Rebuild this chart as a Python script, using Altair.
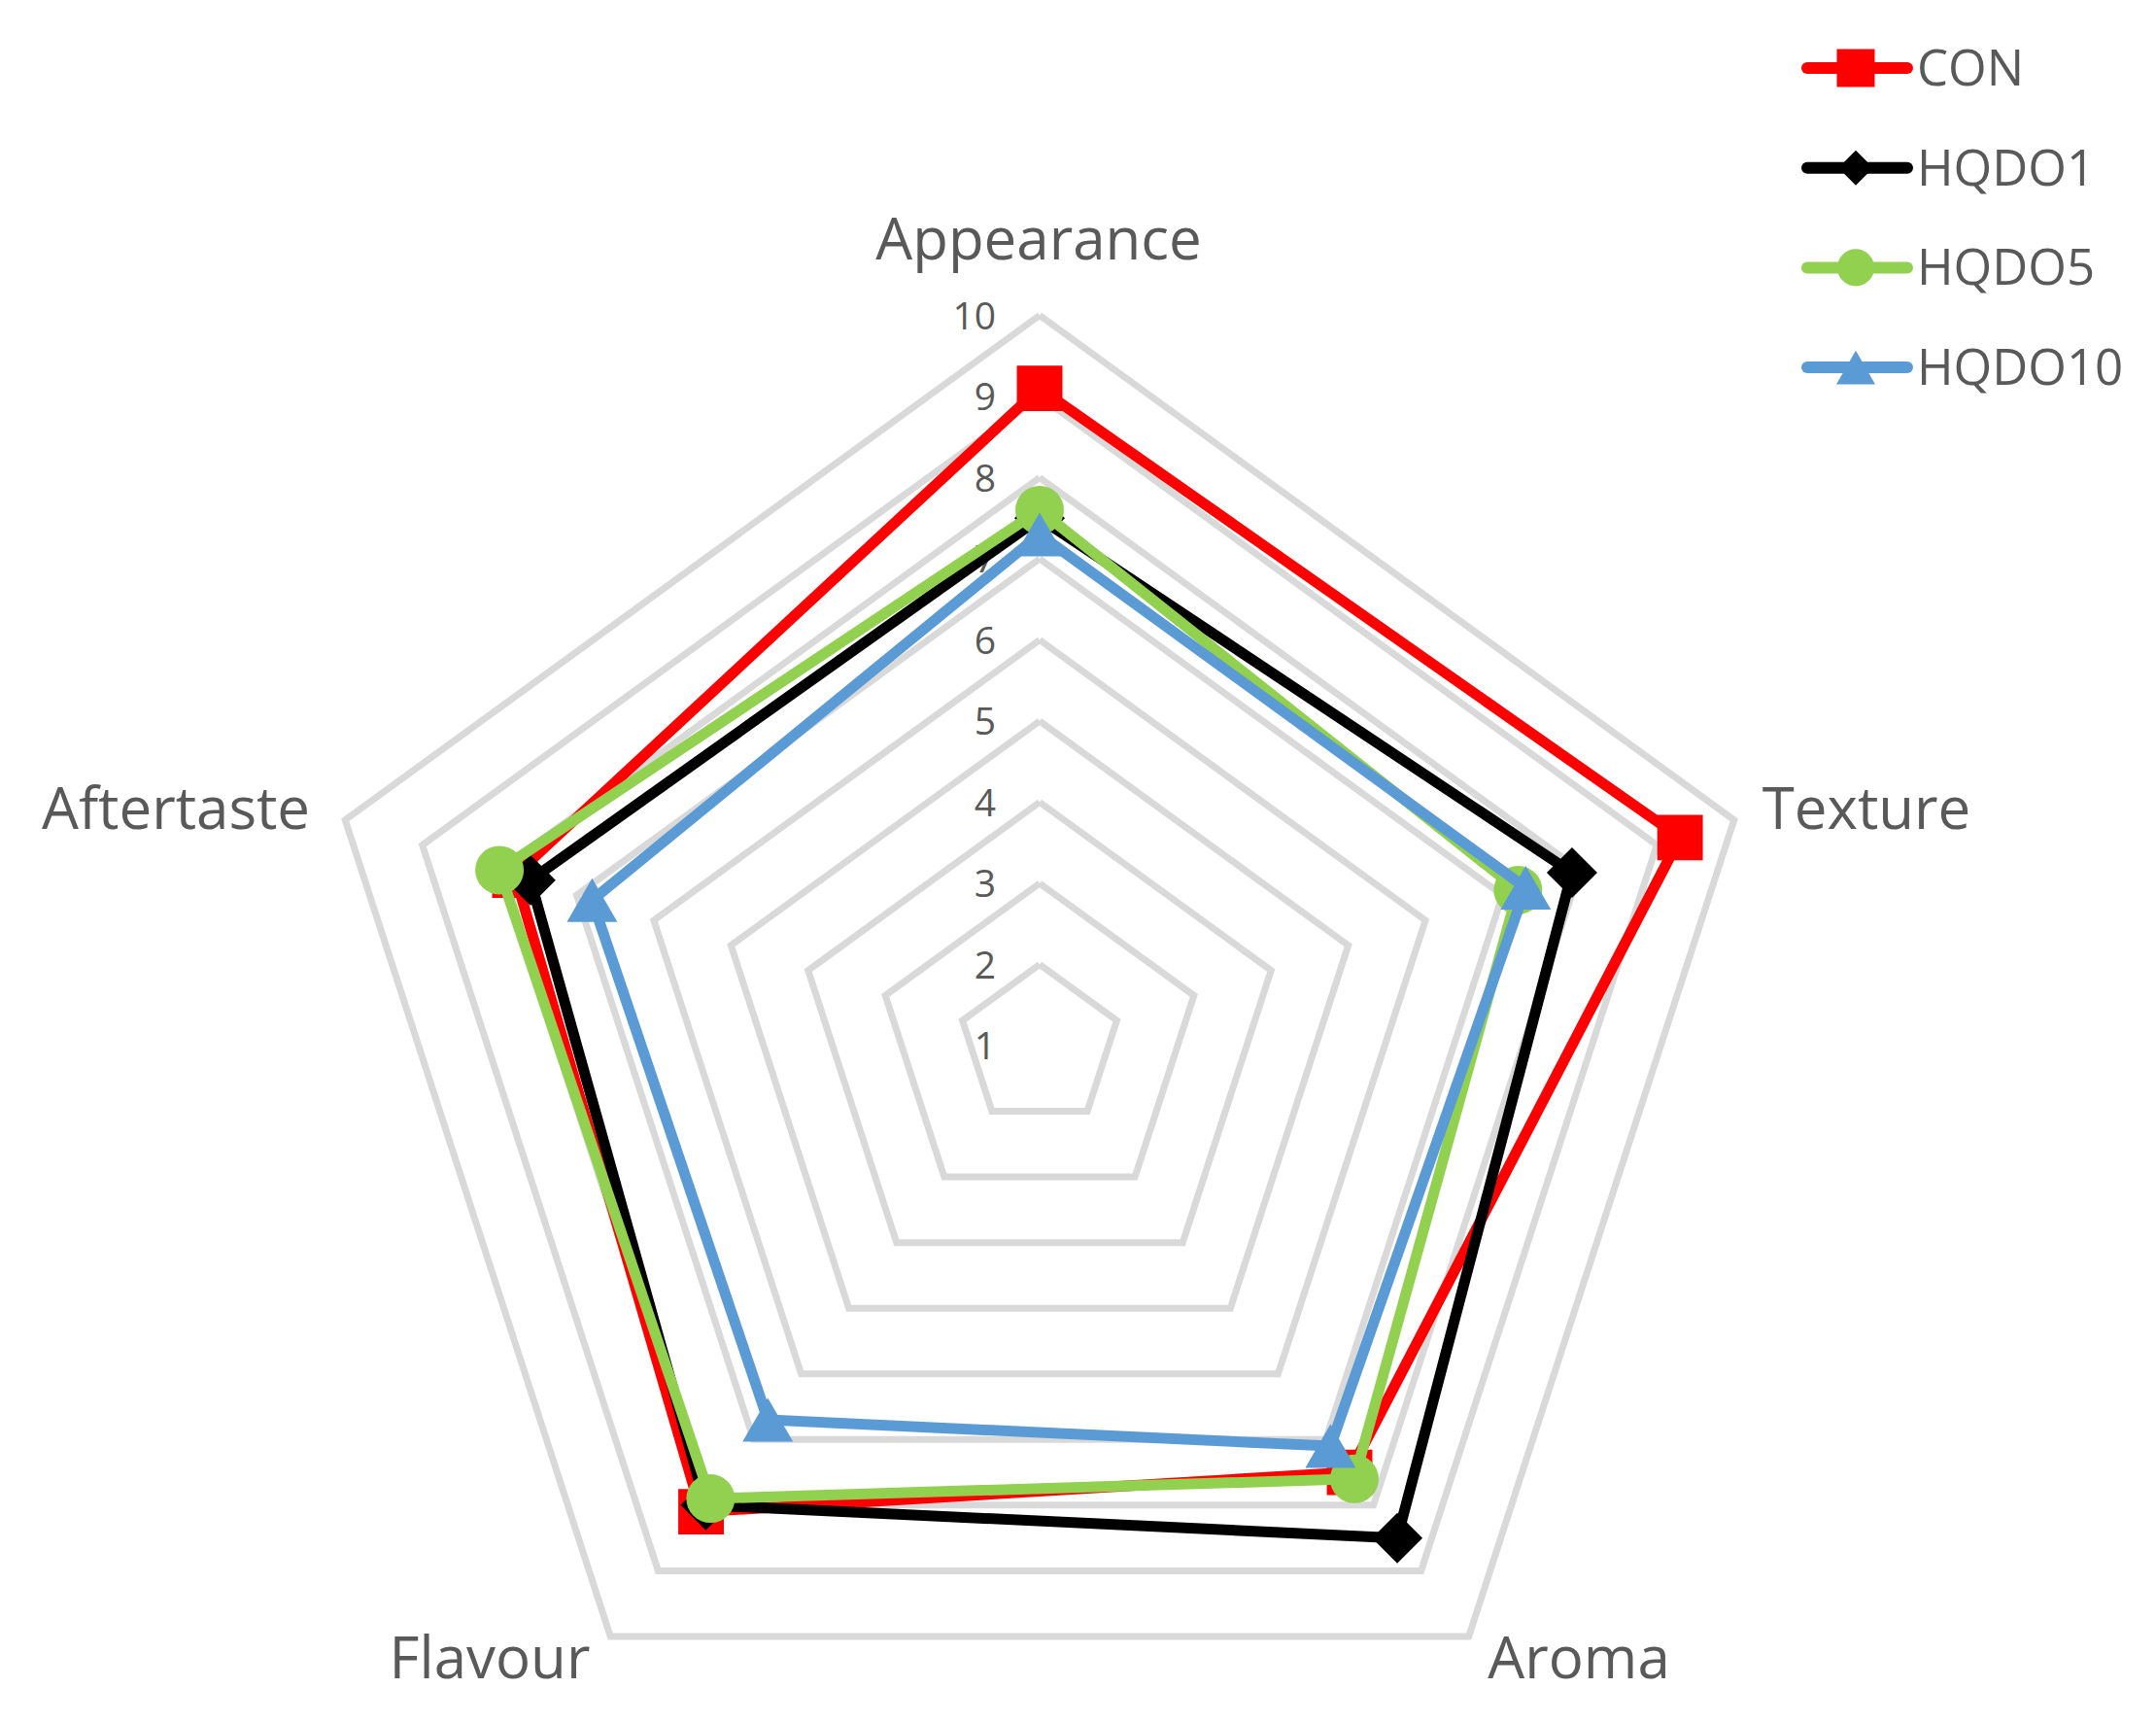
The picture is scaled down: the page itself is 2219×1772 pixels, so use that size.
import math
import altair as alt
import pandas as pd

# ---------------- data ----------------
categories = ["Appearance", "Texture", "Aroma", "Flavour", "Aftertaste"]
series = ["CON", "HQDO1", "HQDO5", "HQDO10"]
con = [9.1, 9.3, 7.5, 8.1, 7.8]
hqdo1 = [7.5, 7.9, 8.5, 8.0, 7.6]
hqdo5 = [7.6, 7.2, 7.6, 7.9, 8.0]
hqdo10 = [7.3, 7.3, 7.1, 6.7, 6.8]
values = [con, hqdo1, hqdo5, hqdo10]
tick_values = [1, 2, 3, 4, 5, 6, 7, 8, 9, 10]
grid_levels = [2, 3, 4, 5, 6, 7, 8, 9, 10]
axis_min = 1

# ---------------- styles / layout ----------------
colors = ["#FF0000", "#000000", "#92D050", "#5B9BD5"]
shapes = ["square", "diamond", "circle", "triangle-up"]
marker_sizes = [2200, 2700, 2500, 2700]
legend_sizes = [1520, 1300, 1450, 1600]
FONT = "Open Sans"
TXT = "#595959"
GRID = "#D9D9D9"

W, H = 2195, 1745
U = 83.5                    # pixels per value unit
CX, CY = 1070 - 8, 1076 - 8  # centre in plot coords
xmin = -CX / U
xmax = xmin + W / U
ymax = CY / U
ymin = ymax - H / U

n = len(categories)
angle_expr = f"PI/2 - datum.k * 2 * PI / {n}"

xs = alt.Scale(domain=[xmin, xmax], nice=False, zero=False)
ys = alt.Scale(domain=[ymin, ymax], nice=False, zero=False)


def polar(chart):
    return chart.transform_calculate(
        ang=angle_expr
    ).transform_calculate(
        px=f"(datum.value - {axis_min}) * cos(datum.ang)",
        py=f"(datum.value - {axis_min}) * sin(datum.ang)",
    )


# grid pentagons
grid_rows = []
for lv in grid_levels:
    for i in range(n + 1):
        grid_rows.append({"level": lv, "k": i % n, "o": i, "value": lv})
grid_df = pd.DataFrame(grid_rows)

grid = polar(alt.Chart(grid_df)).mark_line(
    color=GRID, strokeWidth=7, strokeJoin="miter"
).encode(
    x=alt.X("px:Q", scale=xs, axis=None),
    y=alt.Y("py:Q", scale=ys, axis=None),
    detail="level:N",
    order="o:Q",
)

# tick labels
tick_df = pd.DataFrame({"value": tick_values, "k": [0] * len(tick_values)})
tick_layer = polar(alt.Chart(tick_df)).mark_text(
    align="right", baseline="alphabetic", dx=-45, dy=14,
    fontSize=39, font=FONT, color=TXT
).encode(
    x=alt.X("px:Q", scale=xs, axis=None),
    y=alt.Y("py:Q", scale=ys, axis=None),
    text="value:Q",
)

layers = [grid, tick_layer]

# series
for s, vals, col, shp, sz in zip(series, values, colors, shapes, marker_sizes):
    rows = []
    for i in range(n + 1):
        rows.append({"series": s, "k": i % n, "o": i, "value": vals[i % n],
                     "category": categories[i % n]})
    df = pd.DataFrame(rows)
    base = polar(alt.Chart(df))
    line = base.mark_line(color=col, strokeWidth=11, strokeJoin="round").encode(
        x=alt.X("px:Q", scale=xs, axis=None),
        y=alt.Y("py:Q", scale=ys, axis=None),
        order="o:Q",
    )
    pts = base.transform_filter(f"datum.o < {n}").mark_point(
        filled=True, shape=shp, size=sz, color=col, opacity=1, strokeWidth=0
    ).encode(
        x=alt.X("px:Q", scale=xs, axis=None),
        y=alt.Y("py:Q", scale=ys, axis=None),
    )
    layers += [line, pts]

# category labels (annotation positions in plot pixels)
cat_pos = {
    "Appearance": (1061, 259),
    "Texture": (1913, 845),
    "Aroma": (1617, 1719),
    "Flavour": (496, 1719),
    "Aftertaste": (173, 845),
}
for c in categories:
    x0, y0 = cat_pos[c]
    layers.append(
        alt.Chart(pd.DataFrame({"t": [c]})).mark_text(
            align="center", baseline="alphabetic", fontSize=60, font=FONT, color=TXT
        ).encode(x=alt.value(x0), y=alt.value(y0), text="t:N")
    )

# legend
LX1, LX2, LM, LT = 1852, 1955, 1902, 1965
LY0, LSTEP = 62, 102.7
for idx, (s, col, shp, sz) in enumerate(zip(series, colors, shapes, legend_sizes)):
    ly = LY0 + idx * LSTEP
    ldf = pd.DataFrame({"t": [s]})
    layers.append(
        alt.Chart(ldf).mark_rule(color=col, strokeWidth=12, strokeCap="round").encode(
            x=alt.value(LX1), x2=alt.value(LX2), y=alt.value(ly)
        )
    )
    layers.append(
        alt.Chart(ldf).mark_point(filled=True, shape=shp, size=sz, color=col,
                                  opacity=1, strokeWidth=0).encode(
            x=alt.value(LM), y=alt.value(ly)
        )
    )
    layers.append(
        alt.Chart(ldf).mark_text(align="left", baseline="alphabetic", fontSize=51,
                                 font=FONT, color=TXT).encode(
            x=alt.value(LT), y=alt.value(ly + 18), text="t:N"
        )
    )

chart = alt.layer(*layers).properties(
    width=W, height=H, padding=0,
    autosize=alt.AutoSizeParams(type="none"),
    background="white",
).configure_view(stroke=None)

chart.save("out.html", embed_options={"renderer": "svg", "actions": False})
